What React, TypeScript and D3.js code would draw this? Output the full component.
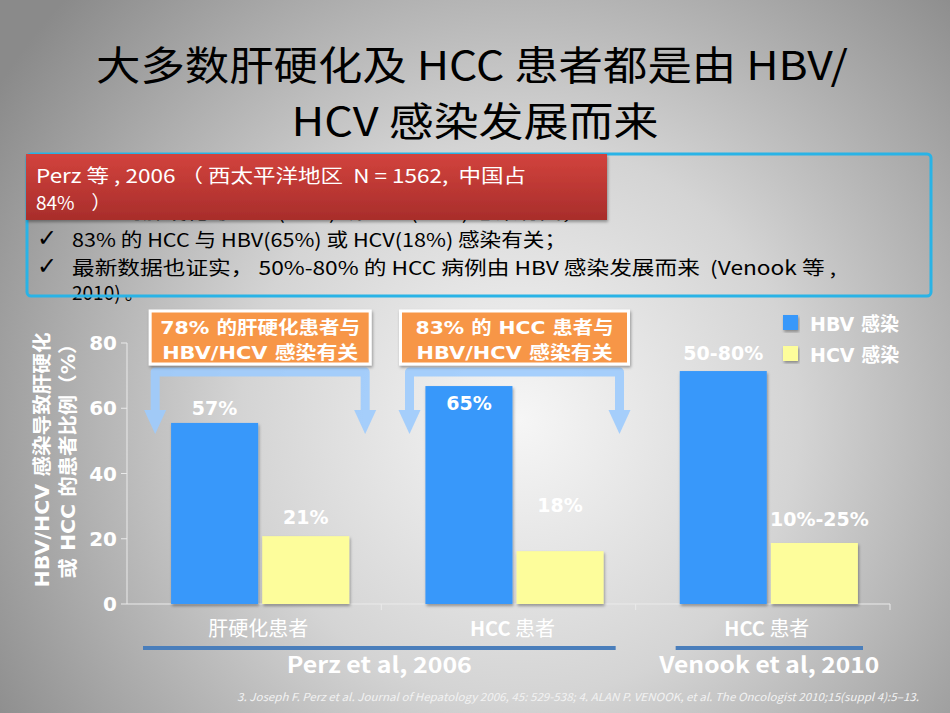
import * as d3 from "d3";

// chart data
const groupKeys = ["cirrhosis2006", "hcc2006", "hcc2010"];
const groupLabels = ["肝硬化患者", "HCC 患者", "HCC 患者"];
const seriesKeys = ["hbv", "hcv"];
const seriesNames = ["HBV 感染", "HCV 感染"];
const seriesColors = ["#3898fa", "#fdfd9b"];
const hbvValues = [55.5, 66.8, 71.4];
const hcvValues = [20.8, 16.2, 18.7];
const hbvLabels = ["57%", "65%", "50-80%"];
const hcvLabels = ["21%", "18%", "10%-25%"];
const hbvLabelAt = [58, 59.5, 74.8];
const hcvLabelAt = [24.5, 28.3, 23.8];
const yTicks = [0, 20, 40, 60, 80];
const callouts = [
  ["78% 的肝硬化患者与", "HBV/HCV 感染有关"],
  ["83% 的 HCC 患者与", "HBV/HCV 感染有关"],
];
const studies = ["Perz et al, 2006", "Venook et al, 2010"];
const studyGroups = [[0, 1], [2, 2]];

const titleLines = ["大多数肝硬化及 HCC 患者都是由 HBV/", "HCV 感染发展而来"];
const boxHeader = ["Perz 等 , 2006 （ 西太平洋地区\u00a0\u00a0N = 1562,\u00a0\u00a0中国占", "84%\u00a0\u00a0\u00a0\u00a0）"];
const bullets = [
  "78% 的肝硬化与 HBV(57%) 或 HCV(21%) 感染有关；",
  "83% 的 HCC 与 HBV(65%) 或 HCV(18%) 感染有关；",
  "最新数据也证实， 50%-80% 的 HCC 病例由 HBV 感染发展而来\u00a0\u00a0(Venook 等 ,",
];
const bulletTail = "2010) 。";
const footnote =
  "3. Joseph F. Perz et al. Journal of Hepatology 2006, 45: 529-538; 4. ALAN P. VENOOK, et al. The Oncologist 2010;15(suppl 4):5–13.";

const W = 950;
const H = 713;
const narrow = "'Liberation Sans Narrow', 'Noto Sans CJK SC', sans-serif";
const boldFont = "'DejaVu Sans', 'Noto Sans CJK SC', sans-serif";

export default function App() {
  const x0 = d3.scaleBand<string>().domain(groupKeys).range([127, 890]);
  const bw = x0.bandwidth();
  const x1 = d3.scaleBand<string>().domain(seriesKeys).range([6, bw + 6]).paddingInner(0.045).paddingOuter(0.418);
  const y = d3.scaleLinear().domain([0, 80]).range([604, 343]);

  const series = [hbvValues, hcvValues];
  const seriesLabels = [hbvLabels, hcvLabels];
  const seriesLabelAt = [hbvLabelAt, hcvLabelAt];
  const groupCenter = (i: number) => x0(groupKeys[i])! + bw / 2 + 6;

  const lineInsets = [[16, 20], [40, 27]];

  return (
    <div style={{ position: "absolute", left: 0, top: 0 }}>
      <svg width={W} height={H} viewBox={`0 0 ${W} ${H}`} style={{ display: "block" }}>
        <defs>
          <radialGradient id="bg" cx="520" cy="420" r="620" gradientUnits="userSpaceOnUse">
            <stop offset="0" stopColor="#f6f6f6" />
            <stop offset="0.45" stopColor="#d4d4d4" />
            <stop offset="1" stopColor="#8a8a8a" />
          </radialGradient>
          <linearGradient id="red" x1="0" y1="0" x2="0" y2="1">
            <stop offset="0" stopColor="#d2433d" />
            <stop offset="1" stopColor="#a82d2b" />
          </linearGradient>
          <filter id="shadow" x="-10%" y="-10%" width="120%" height="130%">
            <feDropShadow dx="1" dy="2" stdDeviation="1.5" floodColor="#000" floodOpacity="0.35" />
          </filter>
        </defs>

        <rect width={W} height={H} fill="url(#bg)" />

        {/* title */}
        <g fontFamily={narrow} fontSize={40} fill="#000" textAnchor="middle">
          <text x={472} y={80} textLength={752} lengthAdjust="spacingAndGlyphs">{titleLines[0]}</text>
          <text x={475} y={136} textLength={367} lengthAdjust="spacingAndGlyphs">{titleLines[1]}</text>
        </g>

        {/* text box */}
        <g fontFamily={narrow} fontSize={19} fill="#000">
          {bullets.map((b, i) => (
            <g key={i}>
              <text x={37} y={218 + i * 28} fontFamily="'DejaVu Sans', sans-serif" fontSize={24}>✓</text>
              <text x={72} y={219 + i * 28} textLength={[511, 494, 764][i]} lengthAdjust="spacingAndGlyphs">{b}</text>
            </g>
          ))}
          <text x={72} y={300}>{bulletTail}</text>
        </g>
        <rect x={27} y={154} width={904} height={142} rx={4} fill="none" stroke="#29b3e6" strokeWidth={3} />
        <rect x={26} y={154} width={581} height={66} fill="url(#red)" filter="url(#shadow)" />
        <g fontFamily={narrow} fontSize={19} fill="#fff">
          <text x={36} y={183} textLength={490} lengthAdjust="spacingAndGlyphs">{boxHeader[0]}</text>
          <text x={36} y={210}>{boxHeader[1]}</text>
        </g>

        {/* y axis */}
        <line x1={127} x2={127} y1={y(80)} y2={y(0)} stroke="#eaeaea" strokeWidth={1} />
        {yTicks.map((t) => (
          <g key={t}>
            <line x1={121} x2={127} y1={y(t)} y2={y(t)} stroke="#eaeaea" />
            <text x={117} y={y(t) + 7} textAnchor="end" fontFamily={boldFont} fontWeight="bold" fontSize={20} fill="#fff">
              {t}
            </text>
          </g>
        ))}
        <g fontFamily={boldFont} fontWeight="bold" fontSize={19} fill="#fff" textAnchor="middle">
          <text transform="translate(49,460) rotate(-90)" textLength={255} lengthAdjust="spacingAndGlyphs">
            HBV/HCV 感染导致肝硬化
          </text>
          <text transform="translate(75,456) rotate(-90)" textLength={245} lengthAdjust="spacingAndGlyphs">
            或 HCC 的患者比例（%）
          </text>
        </g>

        {/* x axis */}
        <line x1={127} x2={890} y1={y(0)} y2={y(0)} stroke="#eaeaea" />
        {groupKeys.slice(1).concat(["end"]).map((k, i) => {
          const xx = k === "end" ? 890 : x0(k)!;
          return <line key={i} x1={xx} x2={xx} y1={y(0)} y2={y(0) + 6} stroke="#eaeaea" />;
        })}

        {/* bars */}
        {groupKeys.map((g, gi) =>
          seriesKeys.map((s, si) => {
            const bx = x0(g)! + x1(s)!;
            const v = series[si][gi];
            return (
              <g key={g + s}>
                <rect
                  x={bx}
                  y={y(v)}
                  width={x1.bandwidth()}
                  height={y(0) - y(v)}
                  fill={seriesColors[si]}
                  filter="url(#shadow)"
                />
                <text
                  x={bx + x1.bandwidth() / 2 + (gi === 2 && si === 1 ? 5 : 0)}
                  y={y(seriesLabelAt[si][gi])}
                  textAnchor="middle"
                  fontFamily={boldFont}
                  fontWeight="bold"
                  fontSize={19}
                  fill="#fff"
                >
                  {seriesLabels[si][gi]}
                </text>
              </g>
            );
          })
        )}

        {/* brackets + callouts */}
        {callouts.map((lines, i) => {
          const c = groupCenter(i);
          const half = 105;
          const l = c - half;
          const r = c + half;
          const base = 410;
          const tip = 434;
          const bw2 = i === 0 ? 220 : 228;
          return (
            <g key={i}>
              <path
                d={`M${l},${base} L${l},372 L${r},372 L${r},${base}`}
                fill="none"
                stroke="#9dcbfd"
                strokeWidth={9}
                strokeLinejoin="round"
                opacity={0.9}
              />
              <path d={`M${l - 11},${base} L${l + 11},${base} L${l},${tip} Z`} fill="#9dcbfd" opacity={0.9} />
              <path d={`M${r - 11},${base} L${r + 11},${base} L${r},${tip} Z`} fill="#9dcbfd" opacity={0.9} />
              <rect
                x={c - bw2 / 2}
                y={311}
                width={bw2}
                height={53}
                fill="#f79646"
                stroke="#fff"
                strokeWidth={3}
                filter="url(#shadow)"
              />
              <g fontFamily={boldFont} fontWeight="bold" fontSize={18} fill="#fff" textAnchor="middle">
                <text x={c} y={334} textLength={i === 0 ? 200 : 198} lengthAdjust="spacingAndGlyphs">{lines[0]}</text>
                <text x={c} y={359} textLength={196} lengthAdjust="spacingAndGlyphs">{lines[1]}</text>
              </g>
            </g>
          );
        })}

        {/* legend */}
        {seriesNames.map((n, i) => (
          <g key={n}>
            <rect x={783} y={315 + i * 31} width={15} height={15} fill={seriesColors[i]} filter="url(#shadow)" />
            <text x={810} y={331 + i * 31} fontFamily={boldFont} fontWeight="bold" fontSize={19} fill="#fff">
              {n}
            </text>
          </g>
        ))}

        {/* category labels */}
        {groupLabels.map((lab, i) => {
          const cx = x0(groupKeys[i])! + bw / 2 + 4;
          const parts = lab.split(" ");
          return (
            <text key={i} x={cx} y={636} textAnchor="middle" fontFamily={narrow} fontSize={20} fill="#fff">
              {parts.length > 1 ? (
                <>
                  <tspan fontWeight="bold">{parts[0]}</tspan> {parts[1]}
                </>
              ) : (
                lab
              )}
            </text>
          );
        })}

        {/* study spans */}
        {studies.map((s, i) => {
          const [a, b] = studyGroups[i];
          const xs = x0(groupKeys[a])! + lineInsets[i][0];
          const xe = x0(groupKeys[b])! + bw - lineInsets[i][1];
          return (
            <g key={s}>
              <line x1={xs} x2={xe} y1={648} y2={648} stroke="#4a7ebb" strokeWidth={4} />
              <text
                x={(xs + xe) / 2}
                y={673}
                textAnchor="middle"
                fontFamily={narrow}
                fontWeight="bold"
                fontSize={22}
                fill="#fff"
                textLength={i === 0 ? 185 : 220}
                lengthAdjust="spacingAndGlyphs"
              >
                {s}
              </text>
            </g>
          );
        })}

        <text
          x={237}
          y={701}
          fontFamily={narrow}
          fontStyle="italic"
          fontSize={11}
          fill="#f2f2f2"
          textLength={682}
          lengthAdjust="spacingAndGlyphs"
        >
          {footnote}
        </text>
      </svg>
    </div>
  );
}
